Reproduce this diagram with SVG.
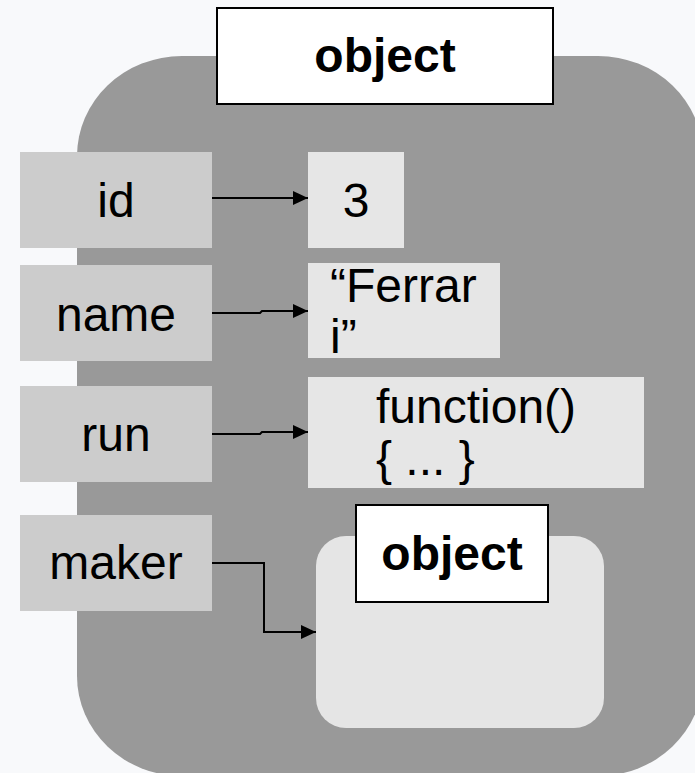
<svg xmlns="http://www.w3.org/2000/svg" width="695" height="773" viewBox="0 0 695 773">
  <defs>
    <marker id="arrow" markerUnits="userSpaceOnUse" markerWidth="16" markerHeight="16" refX="15" refY="7" orient="auto">
      <path d="M0,0 L15,7 L0,14 z" fill="#000"/>
    </marker>
    <style>
      .bg { fill: #f8f9fb; }
      .outer { fill: #999999; }
      .inner { fill: #e5e5e5; }
      .key { fill: #cccccc; }
      .val { fill: #e6e6e6; }
      .label { fill: #ffffff; stroke: #000; stroke-width: 2; }
      .t { font-family: "Liberation Sans", Arial, sans-serif; font-size: 48px; fill: #000; }
      .b { font-weight: bold; }
      .mid { text-anchor: middle; }
      .link { fill: none; stroke: #000; stroke-width: 2; marker-end: url(#arrow); }
    </style>
  </defs>

  <rect class="bg" x="0" y="0" width="695" height="773"/>

  <!-- outer object -->
  <g id="object-outer">
    <rect class="outer" x="77" y="56" width="626" height="720" rx="105" ry="100"/>
    <rect class="label" x="217" y="8" width="336" height="96"/>
    <text class="t b mid" x="385" y="72">object</text>
  </g>

  <!-- property keys -->
  <g id="key-id">
    <rect class="key" x="20" y="152" width="192" height="96"/>
    <text class="t mid" x="116" y="217">id</text>
  </g>
  <g id="key-name">
    <rect class="key" x="20" y="265" width="192" height="96"/>
    <text class="t mid" x="116" y="331">name</text>
  </g>
  <g id="key-run">
    <rect class="key" x="20" y="386" width="192" height="96"/>
    <text class="t mid" x="116" y="451">run</text>
  </g>
  <g id="key-maker">
    <rect class="key" x="20" y="515" width="192" height="96"/>
    <text class="t mid" x="116" y="579">maker</text>
  </g>

  <!-- property values -->
  <g id="val-id">
    <rect class="val" x="308" y="152" width="96" height="96"/>
    <text class="t mid" x="356" y="217">3</text>
  </g>
  <g id="val-name">
    <rect class="val" x="308" y="263" width="192" height="95"/>
    <text class="t" x="330" y="302">“Ferrar</text>
    <text class="t" x="330" y="353">i”</text>
  </g>
  <g id="val-run">
    <rect class="val" x="308" y="377" width="336" height="111"/>
    <text class="t" x="376" y="423">function()</text>
    <text class="t" x="376" y="475">{ ... }</text>
  </g>
  <g id="val-maker">
    <rect class="inner" x="316" y="536" width="288" height="192" rx="30" ry="30"/>
    <rect class="label" x="356" y="505" width="192" height="97"/>
    <text class="t b mid" x="452" y="570">object</text>
  </g>

  <!-- connectors -->
  <g id="connectors">
    <path class="link" d="M212,198 H308"/>
    <path class="link" d="M212,313 H260 L262,311 H308"/>
    <path class="link" d="M212,434 H260 L262,432 H308"/>
    <path class="link" d="M212,563 H264 V632 H316"/>
  </g>
</svg>
